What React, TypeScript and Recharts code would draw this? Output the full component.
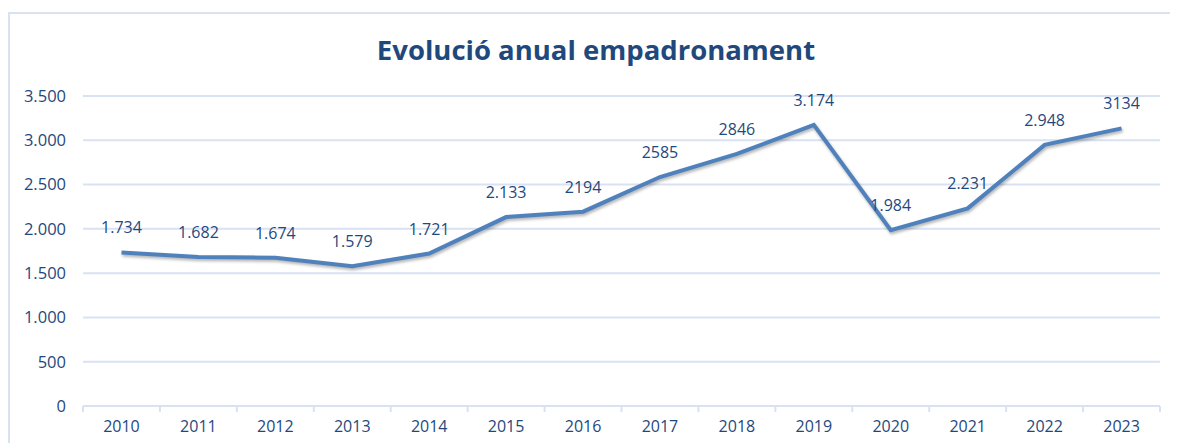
import { CartesianGrid, LabelList, Line, LineChart, XAxis, YAxis } from 'recharts';

const years = ['2010', '2011', '2012', '2013', '2014', '2015', '2016', '2017', '2018', '2019', '2020', '2021', '2022', '2023'];
const padron = [1734, 1682, 1674, 1579, 1721, 2133, 2194, 2585, 2846, 3174, 1984, 2231, 2948, 3134];
// labels exactly as printed on the chart (some without thousands dot)
const valueLabels = ['1.734', '1.682', '1.674', '1.579', '1.721', '2.133', '2194', '2585', '2846', '3.174', '1.984', '2.231', '2.948', '3134'];
const yTicks = [0, 500, 1000, 1500, 2000, 2500, 3000, 3500];

const W = 1180;
const H = 430;
const margin = { top: 82, right: 30, bottom: 8, left: 13 };
const Y_AXIS_W = 60;
const step = (W - margin.left - margin.right - Y_AXIS_W) / years.length;

const FONT = '"Open Sans", sans-serif';
const TEXT = '#1f497d';
const GRID = '#d9e2f3';

const chartData = years.map((year, i) => ({
    pos: i + 0.5,
    year,
    value: padron[i],
    label: valueLabels[i],
}));
const xTicks = years.map((_, i) => i).concat(years.length);

const fmtThousands = (v: number) => String(v).replace(/\B(?=(\d{3})+(?!\d))/g, '.');

const YearTick = ({ x, y, payload }: any) => {
    const idx = payload?.value as number;
    if (idx >= years.length) return null;
    return (
        <text x={x + step / 2} y={y + 18} textAnchor="middle" fill={TEXT} fontSize={16} fontFamily={FONT}>
            {years[idx]}
        </text>
    );
};

const PointLabel = (props: any) => {
    const { x, y, value } = props;
    return (
        <text x={x} y={y - 25} textAnchor="middle" dominantBaseline="central" fill={TEXT} fontSize={16} fontFamily={FONT}>
            {value}
        </text>
    );
};

export default function App() {
    return (
        <div style={{ paddingTop: 4 }}>
            <style>{`html, body { overflow: hidden; } .recharts-line-curve { filter: drop-shadow(1px 2px 1.5px rgba(0,0,0,0.3)); }`}</style>
            <div
                style={{
                    position: 'relative',
                    width: W,
                    height: H,
                    borderTop: `2px solid ${GRID}`,
                    borderLeft: `2px solid ${GRID}`,
                    background: '#fff',
                }}
            >
                <div
                    style={{
                        position: 'absolute',
                        top: 19,
                        left: 7,
                        width: 1158,
                        textAlign: 'center',
                        fontFamily: FONT,
                        fontWeight: 700,
                        fontSize: 27.5,
                        color: TEXT,
                        lineHeight: '34px',
                    }}
                >
                    Evolució anual empadronament
                </div>
                <LineChart width={W} height={H} data={chartData} margin={margin}>
                    <CartesianGrid vertical={false} stroke={GRID} strokeWidth={2} />
                    <XAxis
                        dataKey="pos"
                        type="number"
                        domain={[0, years.length]}
                        ticks={xTicks}
                        interval={0}
                        height={30}
                        axisLine={{ stroke: GRID, strokeWidth: 2 }}
                        tickLine={{ stroke: GRID, strokeWidth: 2 }}
                        tickSize={6}
                        tick={<YearTick />}
                    />
                    <YAxis
                        width={Y_AXIS_W}
                        domain={[0, 3500]}
                        ticks={yTicks}
                        interval={0}
                        axisLine={false}
                        tickLine={false}
                        tickMargin={11}
                        tickFormatter={fmtThousands}
                        tick={{ fill: TEXT, fontSize: 16.5, fontFamily: FONT }}
                    />
                    <Line
                        dataKey="value"
                        stroke="#4f81bd"
                        strokeWidth={4}
                        dot={false}
                        activeDot={false}
                        isAnimationActive={false}
                    >
                        <LabelList dataKey="label" content={<PointLabel />} />
                    </Line>
                </LineChart>
            </div>
        </div>
    );
}
